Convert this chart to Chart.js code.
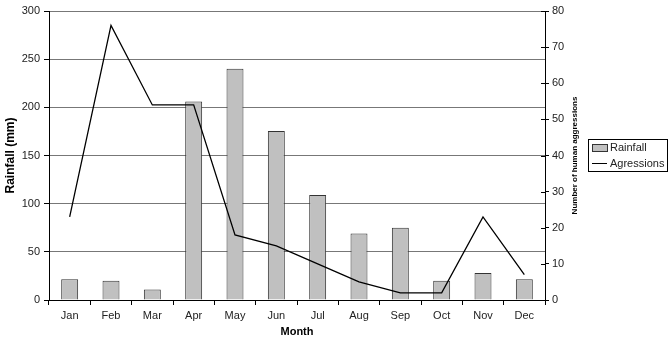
<!DOCTYPE html>
<html><head><meta charset="utf-8">
<script src="https://cdn.jsdelivr.net/npm/chart.js@4"></script>
<style>html,body{margin:0;padding:0;background:#fff}#wrap{width:672px;height:339px}</style>
</head><body><div id="wrap"><canvas id="c" width="672" height="339"></canvas></div>
<script>
const months = ["Jan","Feb","Mar","Apr","May","Jun","Jul","Aug","Sep","Oct","Nov","Dec"];
const rainfall = [21.5, 20, 11, 206, 240, 175.5, 109, 69, 75, 20, 28, 21.5];
const agressions = [23, 76, 54, 54, 18, 15, 10, 5, 2, 2, 23, 7];
const rainTicks = [0, 50, 100, 150, 200, 250, 300];
const aggTicks = [0, 10, 20, 30, 40, 50, 60, 70, 80];

const FONT = "'Liberation Sans', Arial, sans-serif";

const extras = {
  id: 'extras',
  afterDraw(chart) {
    const ctx = chart.ctx;
    const yR = chart.scales.yR;
    const area = chart.chartArea;
    ctx.save();
    ctx.strokeStyle = '#000';
    ctx.lineWidth = 1;
    ctx.beginPath();
    aggTicks.forEach(v => {
      const y = Math.round(yR.getPixelForValue(v)) + 0.5;
      ctx.moveTo(area.right - 4, y);
      ctx.lineTo(area.right, y);
    });
    ctx.stroke();
    ctx.fillStyle = '#000';
    ctx.font = "bold 8px " + FONT;
    ctx.textAlign = 'center';
    ctx.textBaseline = 'middle';
    ctx.translate(575, (area.top + area.bottom) / 2);
    ctx.rotate(-Math.PI / 2);
    ctx.fillText('Number of human aggressions', 0, 0);
    ctx.restore();
    ctx.save();
    ctx.strokeStyle = '#000';
    ctx.lineWidth = 1;
    ctx.strokeRect(588.5, 139.5, 79, 32);
    ctx.fillStyle = '#c0c0c0';
    ctx.fillRect(592, 144, 15, 8);
    ctx.strokeStyle = '#333';
    ctx.strokeRect(592.5, 144.5, 15, 7);
    ctx.strokeStyle = '#000';
    ctx.beginPath();
    ctx.moveTo(592, 163.5);
    ctx.lineTo(607, 163.5);
    ctx.stroke();
    ctx.fillStyle = '#222';
    ctx.font = "11px " + FONT;
    ctx.textAlign = 'left';
    ctx.textBaseline = 'middle';
    ctx.fillText('Rainfall', 610, 148);
    ctx.fillText('Agressions', 610, 163.5);
    ctx.restore();
  }
};

new Chart(document.getElementById('c'), {
  data: {
    labels: months,
    datasets: [
      {
        type: 'line', label: 'Agressions', data: agressions, yAxisID: 'yR',
        borderColor: '#000', borderWidth: 1.3, pointRadius: 0, tension: 0, fill: false, order: 0
      },
      {
        type: 'bar', label: 'Rainfall', data: rainfall, yAxisID: 'y',
        backgroundColor: '#c0c0c0', borderColor: '#333', borderWidth: 1,
        categoryPercentage: 1, barPercentage: 0.41, order: 1
      }
    ]
  },
  options: {
    responsive: false,
    animation: false,
    devicePixelRatio: 1,
    layout: { padding: { top: 11, right: 87, bottom: 0, left: 0 } },
    plugins: { legend: { display: false }, tooltip: { enabled: false } },
    scales: {
      x: {
        type: 'category',
        offset: true,
        grid: { offset: true, drawOnChartArea: false, drawTicks: true, tickLength: 5, color: '#000' },
        border: { color: '#000', width: 1 },
        ticks: { color: '#222', font: { family: FONT, size: 11 }, padding: 4, maxRotation: 0 },
        title: { display: true, text: 'Month', color: '#000', font: { family: FONT, size: 11, weight: 'bold' }, padding: { top: 0, bottom: 0 } },
        afterFit(s) { s.height = 39; }
      },
      y: {
        position: 'left',
        min: 0, max: 300,
        afterBuildTicks(s) { s.ticks = rainTicks.map(v => ({ value: v })); },
        grid: { color: '#777', tickColor: '#000', tickLength: 5, drawTicks: true },
        border: { color: '#000', width: 1 },
        ticks: { color: '#222', font: { family: FONT, size: 11 }, padding: 4 },
        title: { display: true, text: 'Rainfall (mm)', color: '#000', font: { family: FONT, size: 12, weight: 'bold' }, padding: { top: 3, bottom: 0 } },
        afterFit(s) { s.width = 49; }
      },
      yR: {
        position: 'right',
        min: 0, max: 80,
        afterBuildTicks(s) { s.ticks = aggTicks.map(v => ({ value: v })); },
        grid: { drawOnChartArea: false, color: '#000', tickLength: 4 },
        border: { color: '#000', width: 1 },
        ticks: { color: '#222', font: { family: FONT, size: 11 }, padding: 3 },
        afterFit(s) { s.width = 40; }
      }
    }
  },
  plugins: [extras]
});
</script>
</body></html>
